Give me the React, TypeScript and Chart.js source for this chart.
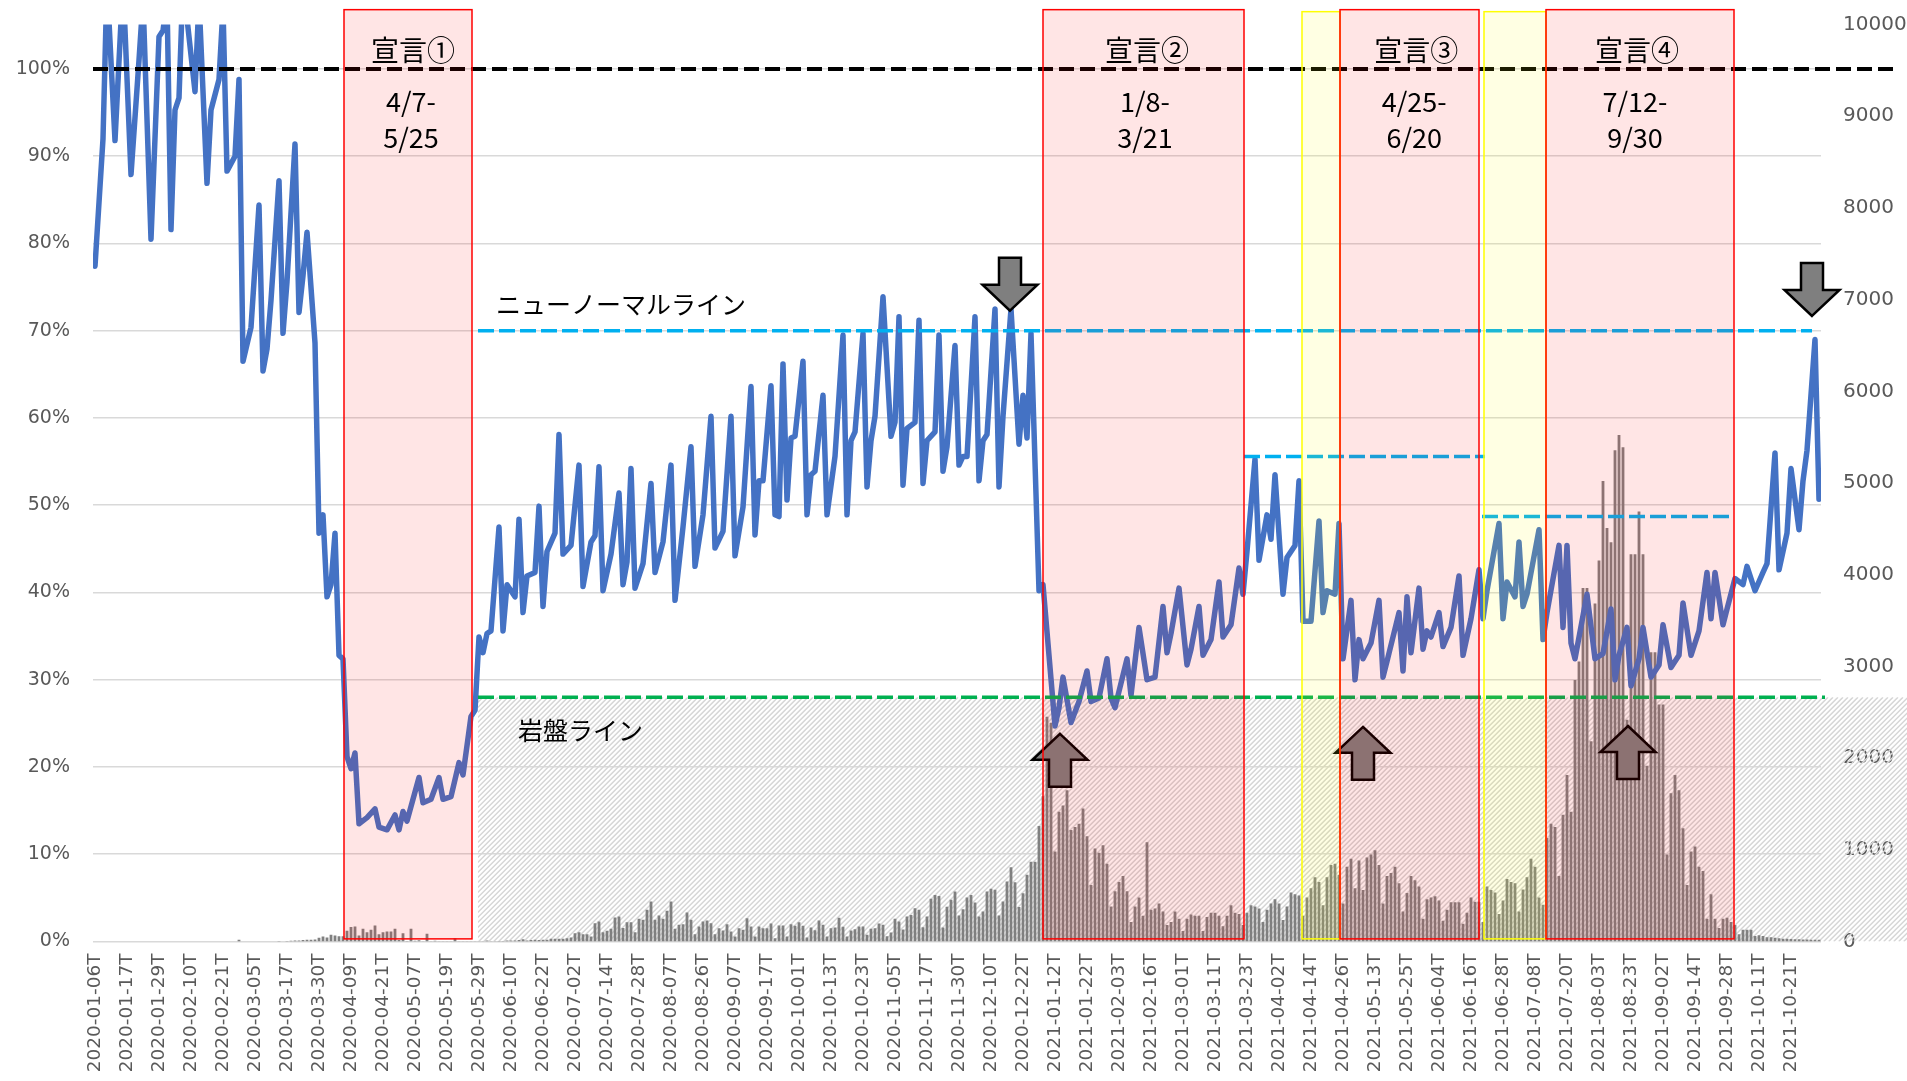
import { useEffect, useRef } from 'react';
import { Chart, registerables } from 'chart.js';

Chart.register(...registerables);

// ---- category axis: Japanese business days, one tick label every 8 days ----
const tickLabels = [
  '2020-01-06T', '2020-01-17T', '2020-01-29T', '2020-02-10T', '2020-02-21T', '2020-03-05T',
  '2020-03-17T', '2020-03-30T', '2020-04-09T', '2020-04-21T', '2020-05-07T', '2020-05-19T',
  '2020-05-29T', '2020-06-10T', '2020-06-22T', '2020-07-02T', '2020-07-14T', '2020-07-28T',
  '2020-08-07T', '2020-08-26T', '2020-09-07T', '2020-09-17T', '2020-10-01T', '2020-10-13T',
  '2020-10-23T', '2020-11-05T', '2020-11-17T', '2020-11-30T', '2020-12-10T', '2020-12-22T',
  '2021-01-12T', '2021-01-22T', '2021-02-03T', '2021-02-16T', '2021-03-01T', '2021-03-11T',
  '2021-03-23T', '2021-04-02T', '2021-04-14T', '2021-04-26T', '2021-05-13T', '2021-05-25T',
  '2021-06-04T', '2021-06-16T', '2021-06-28T', '2021-07-08T', '2021-07-20T', '2021-08-03T',
  '2021-08-23T', '2021-09-02T', '2021-09-14T', '2021-09-28T', '2021-10-11T', '2021-10-21T',
];
const LABEL_STEP = 8;
const CATEGORY_COUNT = 432;

// ---- line series (left axis, %): [category index, value] at each vertex ----
const ratioVertices: [number, number][] = [
  [0, 77.4], [2, 92], [3, 110], [5, 91.8], [7, 110], [9, 87.9], [11, 101], [12, 108], [14, 80.5],
  [16, 103.7], [17, 104.4], [18, 108], [19, 81.6], [20, 95.3], [21, 96.7], [22, 110], [25, 97.4],
  [26, 108], [28, 86.9], [29, 95.3], [31, 98.8], [32, 107], [33, 88.3], [35, 90], [36, 98.8],
  [37, 66.5], [39, 70.4], [41, 84.4], [42, 65.4], [43, 67.9], [44, 73.5], [46, 87.2], [47, 69.7],
  [48, 75.6], [50, 91.4], [51, 72.1], [52, 76.3], [53, 81.3], [55, 68.6], [56, 46.8], [57, 48.9],
  [58, 39.5], [59, 40.9], [60, 46.8], [61, 32.8], [62, 32.4], [63, 21.2], [64, 19.8], [65, 21.6],
  [66, 13.5], [68, 14.2], [70, 15.2], [71, 13.1], [73, 12.8], [75, 14.5], [76, 12.8], [77, 14.9],
  [78, 13.8], [81, 18.8], [82, 15.9], [84, 16.3], [86, 18.8], [87, 16.3], [89, 16.6], [91, 20.5],
  [92, 19.1], [94, 25.8], [95, 26.5], [96, 34.9], [97, 33.1], [98, 35.3], [99, 35.6], [101, 47.5],
  [102, 35.6], [103, 40.9], [105, 39.5], [106, 48.4], [107, 37.7], [108, 41.9], [110, 42.3],
  [111, 49.9], [112, 38.4], [113, 44.7], [115, 46.8], [116, 58.1], [117, 44.4], [119, 45.4],
  [121, 54.6], [122, 40.7], [124, 45.8], [125, 46.5], [126, 54.4], [127, 40.2], [129, 44.4],
  [131, 51.4], [132, 40.9], [133, 43.5], [134, 54.2], [135, 40.5], [137, 43.3], [139, 52.5],
  [140, 42.3], [142, 45.8], [144, 54.6], [145, 39.1], [147, 47.5], [149, 56.7], [150, 43.0],
  [152, 48.9], [154, 60.2], [155, 45.1], [157, 47.0], [159, 60.2], [160, 44.2], [162, 49.8],
  [164, 63.6], [165, 46.6], [166, 52.8], [167, 52.8], [169, 63.7], [170, 48.9], [171, 48.7],
  [172, 66.2], [173, 50.6], [174, 57.7], [175, 57.9], [177, 66.5], [178, 48.9], [179, 53.5],
  [180, 53.9], [182, 62.6], [183, 48.9], [185, 55.6], [187, 69.5], [188, 48.9], [189, 57.4],
  [190, 58.4], [192, 69.7], [193, 52.1], [194, 57.4], [195, 60.2], [197, 73.9], [199, 57.9],
  [200, 59.5], [201, 71.6], [202, 52.3], [203, 58.8], [205, 59.5], [206, 71.2], [207, 52.5],
  [208, 57.4], [210, 58.4], [211, 69.5], [212, 53.9], [213, 56.7], [215, 68.3], [216, 54.6],
  [217, 55.6], [218, 55.6], [220, 71.6], [221, 52.8], [222, 57.4], [223, 58.1], [225, 72.5],
  [226, 52.1], [227, 60.2], [229, 72.5], [231, 57.0], [232, 62.6], [233, 57.7], [234, 69.7],
  [236, 40.2], [237, 40.9], [240, 24.7], [241, 26.8], [242, 30.3], [244, 25.1], [246, 27.5],
  [248, 31.0], [249, 27.5], [251, 27.9], [253, 32.4], [254, 27.9], [255, 26.8], [258, 32.4],
  [259, 28.2], [261, 36.0], [263, 30.0], [265, 30.3], [267, 38.4], [268, 33.1], [269, 35.3],
  [271, 40.5], [273, 31.7], [274, 33.5], [276, 38.4], [277, 32.8], [279, 34.6], [281, 41.2],
  [282, 34.9], [284, 36.3], [286, 42.8], [287, 39.8], [288, 44.7], [290, 55.3], [291, 43.7],
  [293, 48.9], [294, 46.1], [295, 53.5], [297, 39.8], [298, 44.0], [300, 45.4], [301, 52.8],
  [302, 36.7], [304, 36.7], [306, 48.2], [307, 37.7], [308, 40.2], [310, 39.8], [311, 47.9],
  [312, 32.4], [314, 39.1], [315, 30.0], [316, 34.6], [317, 32.4], [319, 34.2], [321, 39.1],
  [322, 30.3], [323, 32.1], [326, 37.7], [327, 31.0], [328, 39.5], [329, 33.1], [331, 40.5],
  [332, 33.5], [333, 35.6], [334, 34.9], [336, 37.7], [337, 33.8], [339, 36.0], [341, 41.9],
  [342, 32.8], [344, 37.0], [346, 42.6], [347, 37.0], [348, 40.2], [351, 47.9], [352, 37.0],
  [353, 41.2], [355, 39.5], [356, 45.8], [357, 38.4], [358, 39.8], [361, 47.2], [362, 34.6],
  [363, 37.7], [366, 45.4], [367, 36.0], [368, 45.4], [369, 34.2], [370, 32.4], [373, 39.8],
  [375, 32.4], [377, 33.0], [379, 38.1], [380, 30.0], [381, 32.8], [383, 36.0], [384, 29.3],
  [386, 32.4], [387, 36.0], [389, 30.3], [391, 31.7], [392, 36.3], [394, 31.4], [396, 32.8],
  [397, 38.8], [399, 32.8], [401, 35.6], [403, 42.3], [404, 37.0], [405, 42.3], [407, 36.3],
  [408, 38.1], [410, 41.6], [412, 40.9], [413, 43.0], [415, 40.2], [417, 42.3], [418, 43.3],
  [420, 56.0], [421, 42.6], [423, 46.8], [424, 54.2], [426, 47.2], [427, 52.8], [428, 56.3],
  [430, 69.0], [431, 50.7],
];

// ---- bar series (right axis, daily cases), one per category ----
const dailyCases = [
  0, 0, 0, 0, 0, 0, 0, 0, 0, 0,
  0, 0, 0, 0, 0, 0, 0, 0, 0, 0,
  0, 0, 0, 0, 0, 0, 0, 0, 0, 0,
  0, 0, 0, 0, 0, 0, 20, 0, 0, 0,
  0, 0, 0, 0, 0, 0, 5, 0, 5, 8,
  10, 12, 15, 20, 18, 22, 40, 55, 44, 73,
  65, 58, 58, 116, 157, 164, 65, 138, 102, 127,
  175, 80, 102, 109, 109, 138, 15, 91, 5, 138,
  7, 14, 2, 84, 2, 7, 3, 3, 3, 3,
  36, 3, 3, 3, 3, 3, 4, 3, 11, 3,
  3, 5, 5, 10, 12, 12, 15, 25, 12, 15,
  18, 15, 18, 18, 29, 29, 29, 29, 36, 44,
  91, 102, 80, 80, 55, 200, 218, 102, 116, 138,
  262, 273, 146, 211, 211, 102, 247, 237, 346, 437,
  237, 284, 247, 335, 437, 138, 182, 189, 317, 237,
  80, 163, 218, 229, 200, 80, 145, 120, 189, 109,
  54, 145, 127, 254, 163, 54, 163, 145, 145, 196,
  36, 174, 174, 54, 189, 171, 211, 171, 44, 152,
  123, 229, 182, 54, 145, 152, 258, 160, 54, 120,
  134, 163, 163, 73, 138, 145, 196, 182, 58, 98,
  247, 218, 131, 272, 290, 363, 345, 156, 272, 465,
  508, 497, 152, 378, 454, 545, 283, 352, 479, 508,
  425, 272, 327, 545, 574, 563, 283, 436, 653, 810,
  645, 375, 525, 727, 870, 870, 1260, 1583, 2452, 2385,
  982, 1416, 1483, 1650, 1216, 1249, 1283, 1450, 1149, 615,
  1015, 969, 1049, 848, 381, 548, 648, 715, 548, 214,
  381, 481, 281, 1082, 347, 361, 414, 327, 180, 214,
  327, 247, 114, 247, 294, 281, 281, 114, 267, 314,
  314, 281, 167, 281, 394, 314, 301, 180, 314, 394,
  381, 361, 214, 347, 414, 461, 414, 234, 381, 534,
  514, 501, 281, 481, 581, 701, 648, 394, 701, 835,
  848, 728, 414, 815, 902, 581, 882, 561, 915, 949,
  995, 835, 414, 715, 748, 815, 635, 327, 528, 715,
  668, 601, 247, 461, 481, 494, 448, 227, 347, 428,
  428, 428, 194, 314, 481, 434, 434, 214, 601, 561,
  534, 301, 448, 681, 648, 635, 327, 568, 701, 902,
  815, 481, 400, 1129, 1283, 1249, 715, 1383, 1817, 1416,
  2852, 3053, 3854, 3854, 2184, 3687, 4155, 5023, 4509, 4355,
  5357, 5524, 5391, 2418, 4222, 4222, 4689, 4222, 1917, 3153,
  3153, 2585, 2585, 949, 1617, 1817, 1650, 1236, 615, 982,
  1035, 815, 768, 247, 514, 247, 147, 247, 260, 214,
  180, 80, 127, 127, 127, 60, 67, 60, 47, 47,
  40, 35, 30, 30, 28, 25, 25, 22, 22, 20, 20, 18,
];

const leftTicks = [0, 10, 20, 30, 40, 50, 60, 70, 80, 90, 100];
const LEFT_MAX = 105.1;
const RIGHT_MAX = 10000;

// ---- annotations (category-index ranges, left-axis values) ----
const redPeriods = [
  { title: '宣言①', dates: ['4/7-', '5/25'], from: 62.25, to: 94.25, center: 79.5 },
  { title: '宣言②', dates: ['1/8-', '3/21'], from: 237, to: 287.25, center: 263 },
  { title: '宣言③', dates: ['4/25-', '6/20'], from: 311.25, to: 346, center: 330.3 },
  { title: '宣言④', dates: ['7/12-', '9/30'], from: 362.75, to: 409.75, center: 385.5 },
];
const yellowPeriods = [
  { from: 301.75, to: 311.25 },
  { from: 347.25, to: 362.75 },
];
const refLines = [
  { value: 100, from: -0.5, to: 450.5, color: '#000000', width: 4, dash: [15, 6] },
  { value: 70, from: 95.75, to: 429.25, color: '#00B0F0', width: 3.5, dash: [16, 5] },
  { value: 55.6, from: 287.25, to: 347.5, color: '#00B0F0', width: 3.5, dash: [16, 5] },
  { value: 48.7, from: 346.75, to: 409, color: '#00B0F0', width: 3.5, dash: [16, 5] },
  { value: 28, from: 95.75, to: 432.5, color: '#00B050', width: 3.5, dash: [16, 5] },
];
const bedrock = { from: 95.75, to: 453, top: 28 };
const arrows = [
  { at: 228.75, tip: 72.3, dir: 1 },
  { at: 429.25, tip: 71.7, dir: 1 },
  { at: 241.25, tip: 23.8, dir: -1 },
  { at: 317, tip: 24.6, dir: -1 },
  { at: 383.25, tip: 24.7, dir: -1 },
];
const lineLabels = [
  { text: 'ニューノーマルライン', at: 100.25, value: 73.05 },
  { text: '岩盤ライン', at: 105.75, value: 24.2 },
];

const categories = Array.from({ length: CATEGORY_COUNT }, (_, i) =>
  i % LABEL_STEP === 0 ? tickLabels[i / LABEL_STEP] ?? '' : ''
);
const ratioSeries: (number | null)[] = Array(CATEGORY_COUNT).fill(null);
ratioVertices.forEach(([i, v]) => {
  ratioSeries[i] = v;
});

const overlayPlugin = {
  id: 'overlay',
  beforeDatasetsDraw(chart: any) {
    const { ctx } = chart;
    const xs = chart.scales.x;
    const ys = chart.scales.y;
    const x0 = xs.getPixelForValue(bedrock.from);
    const x1 = xs.getPixelForValue(bedrock.to);
    const yt = ys.getPixelForValue(bedrock.top);
    const yb = ys.getPixelForValue(0);
    const h = yb - yt;
    ctx.save();
    ctx.beginPath();
    ctx.rect(x0, yt, x1 - x0, h);
    ctx.clip();
    ctx.strokeStyle = '#d6d6d6';
    ctx.lineWidth = 1.5;
    ctx.beginPath();
    for (let sx = x0 - h; sx < x1 + 5; sx += 5) {
      ctx.moveTo(sx, yb);
      ctx.lineTo(sx + h, yt);
    }
    ctx.stroke();
    ctx.restore();
  },
  afterDatasetsDraw(chart: any) {
    const { ctx } = chart;
    const xs = chart.scales.x;
    const ys = chart.scales.y;

    // reference dashed lines
    refLines.forEach((l) => {
      const py = ys.getPixelForValue(l.value);
      ctx.save();
      ctx.strokeStyle = l.color;
      ctx.lineWidth = l.width;
      ctx.setLineDash(l.dash);
      ctx.lineCap = 'butt';
      ctx.beginPath();
      ctx.moveTo(xs.getPixelForValue(l.from), py);
      ctx.lineTo(xs.getPixelForValue(l.to), py);
      ctx.stroke();
      ctx.restore();
    });

    // arrows
    arrows.forEach((a) => {
      const cx = xs.getPixelForValue(a.at);
      const tipY = ys.getPixelForValue(a.tip);
      const HL = 26;
      const L = 53;
      const HW = 27.5;
      const SW = 11;
      const base = tipY - a.dir * HL;
      const tail = tipY - a.dir * L;
      ctx.save();
      ctx.beginPath();
      ctx.moveTo(cx, tipY);
      ctx.lineTo(cx + HW, base);
      ctx.lineTo(cx + SW, base);
      ctx.lineTo(cx + SW, tail);
      ctx.lineTo(cx - SW, tail);
      ctx.lineTo(cx - SW, base);
      ctx.lineTo(cx - HW, base);
      ctx.closePath();
      ctx.fillStyle = '#7f7f7f';
      ctx.fill();
      ctx.strokeStyle = '#000000';
      ctx.lineWidth = 2.5;
      ctx.lineJoin = 'miter';
      ctx.stroke();
      ctx.restore();
    });

    const boxTop = ys.getPixelForValue(106.8);
    const boxBottom = ys.getPixelForValue(0.3);

    yellowPeriods.forEach((p) => {
      const a = xs.getPixelForValue(p.from);
      const b = xs.getPixelForValue(p.to);
      ctx.save();
      ctx.fillStyle = 'rgba(255,255,0,0.11)';
      ctx.fillRect(a, boxTop + 2, b - a, boxBottom - boxTop - 2);
      ctx.strokeStyle = '#ffff00';
      ctx.lineWidth = 1.5;
      ctx.strokeRect(a, boxTop + 2, b - a, boxBottom - boxTop - 2);
      ctx.restore();
    });

    redPeriods.forEach((p) => {
      const a = xs.getPixelForValue(p.from);
      const b = xs.getPixelForValue(p.to);
      ctx.save();
      ctx.fillStyle = 'rgba(255,0,0,0.1)';
      ctx.fillRect(a, boxTop, b - a, boxBottom - boxTop);
      ctx.strokeStyle = '#ff0000';
      ctx.lineWidth = 1.5;
      ctx.strokeRect(a, boxTop, b - a, boxBottom - boxTop);
      ctx.restore();
    });

    // texts
    ctx.save();
    ctx.fillStyle = '#000000';
    ctx.textBaseline = 'middle';
    ctx.textAlign = 'center';
    redPeriods.forEach((p) => {
      const cx = xs.getPixelForValue(p.center);
      ctx.font = '28px "Noto Sans CJK JP"';
      ctx.fillText(p.title, cx, ys.getPixelForValue(102.1));
      ctx.font = '27px "Noto Sans CJK JP"';
      ctx.fillText(p.dates[0], cx - 2, ys.getPixelForValue(96.2));
      ctx.fillText(p.dates[1], cx - 2, ys.getPixelForValue(92.1));
    });
    ctx.textAlign = 'left';
    ctx.font = '25px "Noto Sans CJK JP"';
    lineLabels.forEach((t) => {
      ctx.fillText(t.text, xs.getPixelForValue(t.at), ys.getPixelForValue(t.value));
    });
    ctx.restore();
  },
};

export default function App() {
  const canvasRef = useRef<HTMLCanvasElement | null>(null);

  useEffect(() => {
    document.body.style.margin = '0';
    const canvas = canvasRef.current;
    if (!canvas) return;
    const chart = new Chart(canvas, {
      type: 'bar',
      data: {
        labels: categories,
        datasets: [
          {
            type: 'line',
            label: 'ratio',
            data: ratioSeries,
            yAxisID: 'y',
            borderColor: '#4472C4',
            backgroundColor: '#4472C4',
            borderWidth: 5.5,
            pointRadius: 0,
            tension: 0,
            spanGaps: true,
            clip: 0,
            order: 1,
            borderJoinStyle: 'round',
            borderCapStyle: 'round',
          } as any,
          {
            type: 'bar',
            label: 'cases',
            data: dailyCases,
            yAxisID: 'y2',
            backgroundColor: '#808080',
            borderWidth: 0,
            barPercentage: 0.7,
            categoryPercentage: 1,
            order: 2,
          } as any,
        ],
      },
      options: {
        animation: false,
        responsive: false,
        maintainAspectRatio: false,
        devicePixelRatio: 1,
        layout: { padding: { top: 24.5, left: 0, right: 0, bottom: 0 } },
        plugins: { legend: { display: false }, tooltip: { enabled: false } },
        scales: {
          x: {
            type: 'category',
            offset: true,
            grid: { display: false, drawTicks: false },
            border: { display: false },
            ticks: {
              autoSkip: false,
              maxRotation: 90,
              minRotation: 90,
              padding: 12,
              color: '#595959',
              font: { family: 'DejaVu Sans', size: 18.5 },
            },
            afterFit: (s: any) => {
              s.height = 139.5;
              s.paddingLeft = 0;
              s.paddingRight = 0;
            },
          },
          y: {
            position: 'left',
            min: 0,
            max: LEFT_MAX,
            grid: { color: '#d9d9d9', lineWidth: 1.5, drawTicks: false },
            border: { display: false },
            ticks: {
              padding: 23,
              color: '#595959',
              font: { family: 'DejaVu Sans', size: 19 },
              callback: (v: any) => `${v}%`,
            },
            afterBuildTicks: (s: any) => {
              s.ticks = leftTicks.map((v) => ({ value: v }));
            },
            afterFit: (s: any) => {
              s.width = 93;
              s.paddingTop = 0;
              s.paddingBottom = 0;
            },
          },
          y2: {
            position: 'right',
            min: 0,
            max: RIGHT_MAX,
            grid: { display: false, drawTicks: false },
            border: { display: false },
            ticks: {
              stepSize: 1000,
              padding: 22,
              color: '#595959',
              font: { family: 'DejaVu Sans', size: 20 },
              callback: (v: any) => String(v),
            },
            afterFit: (s: any) => {
              s.width = 86;
              s.paddingTop = 0;
              s.paddingBottom = 0;
            },
          },
        },
      } as any,
      plugins: [overlayPlugin],
    });
    return () => chart.destroy();
  }, []);

  return (
    <canvas
      ref={canvasRef}
      width={1907}
      height={1081}
      style={{ display: 'block', width: '1907px', height: '1081px' }}
    />
  );
}
